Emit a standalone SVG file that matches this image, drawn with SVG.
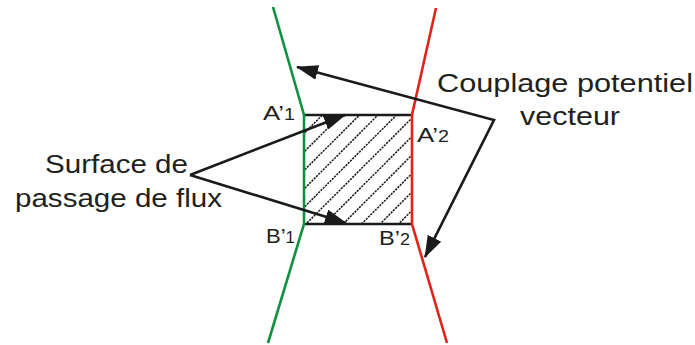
<svg xmlns="http://www.w3.org/2000/svg" width="695" height="345" viewBox="0 0 695 345">
<style>
text{font-family:"Liberation Sans","DejaVu Sans",sans-serif;fill:#231f20}
.lbl{font-size:25px}
.pt{font-size:21px}
.sub{font-size:16px}
.conn{stroke:#1a1a1a;stroke-width:2.6;fill:none}
.hatch{stroke:#1a1a1a;stroke-width:1.5;stroke-dasharray:2.2 1}
.edge{stroke:#1a1a1a;stroke-width:2.6}
</style>
<defs>
<marker id="ah" viewBox="0 0 22 15" refX="21" refY="7.5" markerWidth="22" markerHeight="15" markerUnits="userSpaceOnUse" orient="auto-start-reverse">
<path d="M0,0 L22,7.5 L0,15 Z" fill="#1a1a1a"/>
</marker>
<clipPath id="rc"><rect x="304" y="115" width="108" height="109"/></clipPath>
</defs>
<g id="surface">
<g clip-path="url(#rc)" class="hatch">
<line x1="289" y1="130" x2="419" y2="0"/>
<line x1="289" y1="148.5" x2="460" y2="-22.5"/>
<line x1="289" y1="167" x2="460" y2="-4"/>
<line x1="289" y1="185.5" x2="460" y2="14.5"/>
<line x1="289" y1="204" x2="460" y2="33"/>
<line x1="289" y1="222.5" x2="460" y2="51.5"/>
<line x1="289" y1="241" x2="460" y2="70"/>
<line x1="289" y1="259.5" x2="460" y2="88.5"/>
<line x1="289" y1="278" x2="460" y2="107"/>
<line x1="289" y1="296.5" x2="460" y2="125.5"/>
<line x1="289" y1="315" x2="460" y2="144"/>
<line x1="289" y1="333.5" x2="460" y2="162.5"/>
<line x1="289" y1="352" x2="460" y2="181"/>
</g>
<line class="edge" x1="304" y1="115" x2="412" y2="115"/>
<line class="edge" x1="304" y1="224" x2="412" y2="224"/>
</g>
<g id="boundary1">
<polyline points="273,7 304,115 304,224 268,343" fill="none" stroke="#10913f" stroke-width="2.6"/>
</g>
<g id="boundary2">
<polyline points="436,8 412,115 412,224 447,343" fill="none" stroke="#e0241b" stroke-width="2.6"/>
</g>
<g id="label-A1"><text class="pt" x="263" y="120" textLength="32" lengthAdjust="spacingAndGlyphs">A’<tspan class="sub">1</tspan></text></g>
<g id="label-A2"><text class="pt" x="417" y="142" textLength="32" lengthAdjust="spacingAndGlyphs">A’<tspan class="sub">2</tspan></text></g>
<g id="label-B1"><text class="pt" x="266" y="243" textLength="29" lengthAdjust="spacingAndGlyphs">B’<tspan class="sub">1</tspan></text></g>
<g id="label-B2"><text class="pt" x="379" y="245" textLength="31" lengthAdjust="spacingAndGlyphs">B’<tspan class="sub">2</tspan></text></g>
<g id="label-surface">
<text class="lbl" x="45" y="173" textLength="143" lengthAdjust="spacingAndGlyphs">Surface de</text>
<text class="lbl" x="15" y="207" textLength="207" lengthAdjust="spacingAndGlyphs">passage de flux</text>
</g>
<g id="label-couplage">
<text class="lbl" x="437" y="92" textLength="256" lengthAdjust="spacingAndGlyphs">Couplage potentiel</text>
<text class="lbl" x="520" y="125" textLength="100" lengthAdjust="spacingAndGlyphs">vecteur</text>
</g>
<g id="connectors">
<polyline class="conn" points="297,67 494,120 425,257" marker-start="url(#ah)" marker-end="url(#ah)"/>
<line class="conn" x1="190" y1="175" x2="345" y2="115" marker-end="url(#ah)"/>
<line class="conn" x1="190" y1="175" x2="346" y2="223" marker-end="url(#ah)"/>
</g>
</svg>
